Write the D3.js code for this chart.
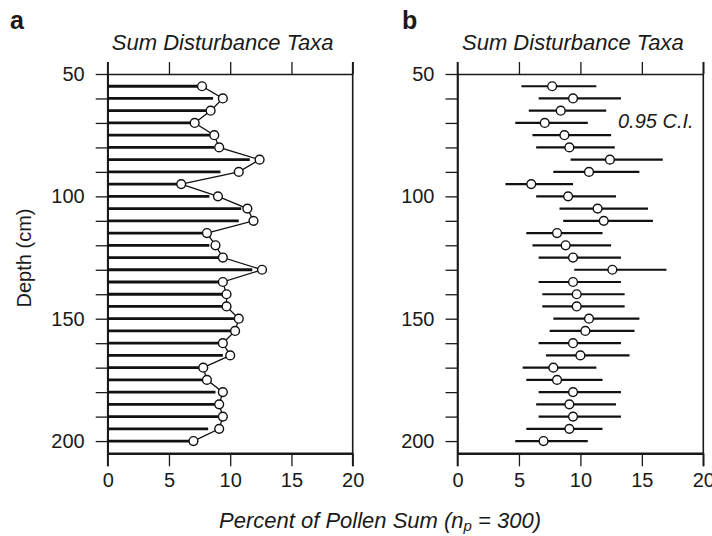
<!DOCTYPE html>
<html><head><meta charset="utf-8">
<script src="https://cdn.jsdelivr.net/npm/d3@7"></script>
<style>
body{margin:0;background:#fff;}
text{font-family:"Liberation Sans",Arial,Helvetica,sans-serif;fill:#1a1a1a;}
.axis path,.axis line{stroke:#1a1a1a;}
</style></head><body>
<svg id="chart" width="712" height="536"></svg>
<script>
const depths = [55,60,65,70,75,80,85,90,95,100,105,110,115,120,125,130,135,140,145,150,155,160,165,170,175,180,185,190,195,200];
const values = [7.7,9.4,8.4,7.1,8.7,9.1,12.4,10.7,6.0,9.0,11.4,11.9,8.1,8.8,9.4,12.6,9.4,9.7,9.7,10.7,10.4,9.4,10.0,7.8,8.1,9.4,9.1,9.4,9.1,7.0];
const barValues = [7.5,8.6,8.1,6.8,8.4,8.7,11.6,9.2,5.7,8.3,10.9,10.7,7.7,8.3,9.1,11.8,9.1,9.4,9.4,10.3,10.1,9.1,9.4,7.5,7.7,8.8,8.8,9.0,8.2,6.8];
const ciLow = [5.2,6.6,5.8,4.7,6.1,6.4,9.2,7.8,3.9,6.4,8.3,8.6,5.6,6.1,6.6,9.5,6.6,6.9,6.9,7.8,7.5,6.6,7.2,5.3,5.6,6.6,6.4,6.6,5.6,4.7];
const ciHigh = [11.3,13.3,12.1,10.6,12.5,12.8,16.7,14.8,9.4,12.9,15.5,15.9,11.8,12.5,13.3,17.0,13.3,13.6,13.6,14.8,14.4,13.3,14.0,11.3,11.8,13.3,12.9,13.3,11.8,10.6];
const xTicks = [0,5,10,15,20];
const yTicks = [50,60,70,80,90,100,110,120,130,140,150,160,170,180,190,200];
const yDomain = [50,205];
const panelTitle = "Sum Disturbance Taxa";
const panelLetters = ["a","b"];
const ciLabel = "0.95 C.I.";

const svg = d3.select("#chart");
const y = d3.scaleLinear().domain(yDomain).range([74,453.3]);
const xA = d3.scaleLinear().domain([0,20]).range([107.7,352.7]);
const xB = d3.scaleLinear().domain([0,20]).range([457.5,703.3]);

function drawAxes(x){
  const top = svg.append("g").attr("class","axis").attr("transform",`translate(0,${y(50)})`)
    .call(d3.axisTop(x).tickValues(xTicks).tickSize(12).tickSizeOuter(0).tickFormat(""));
  top.select(".domain").attr("stroke-width",1.6);
  top.selectAll(".tick line").attr("stroke-width",1.3);
  const bot = svg.append("g").attr("class","axis").attr("transform",`translate(0,${y(205)})`)
    .call(d3.axisBottom(x).tickValues(xTicks).tickSize(13).tickSizeOuter(0).tickPadding(7));
  bot.select(".domain").attr("stroke-width",2.4);
  bot.selectAll(".tick line").attr("stroke-width",1.3);
  bot.selectAll("text").attr("font-size",20).attr("fill","#1a1a1a");
  const left = svg.append("g").attr("class","axis").attr("transform",`translate(${x(0)},0)`)
    .call(d3.axisLeft(y).tickValues(yTicks).tickSize(12).tickSizeOuter(0).tickPadding(11)
      .tickFormat(d => d % 50 === 0 ? d : ""));
  left.select(".domain").attr("stroke-width",1.6);
  left.selectAll(".tick line").attr("stroke-width",1.3);
  left.selectAll("text").attr("font-size",20).attr("fill","#1a1a1a");
  // left and right frame lines extend to the top/bottom tick ends
  [x(0), x(20)].forEach(px => {
    svg.append("line").attr("x1",px).attr("x2",px).attr("y1",y(50)-12).attr("y2",y(205)+13)
      .attr("stroke","#1a1a1a").attr("stroke-width",1.6);
  });
}

// Panel a
drawAxes(xA);
svg.append("g").selectAll("line.bar").data(depths).join("line")
  .attr("x1",xA(0)).attr("x2",(d,i)=>xA(barValues[i]))
  .attr("y1",d=>y(d)).attr("y2",d=>y(d))
  .attr("stroke","#111").attr("stroke-width",2.8);
svg.append("path").datum(depths)
  .attr("d",d3.line().x((d,i)=>xA(values[i])).y(d=>y(d)))
  .attr("fill","none").attr("stroke","#111").attr("stroke-width",1.3);
svg.append("g").selectAll("circle").data(depths).join("circle")
  .attr("cx",(d,i)=>xA(values[i])).attr("cy",d=>y(d)).attr("r",4.4)
  .attr("fill","#fff").attr("stroke","#111").attr("stroke-width",1.4);

// Panel b
drawAxes(xB);
svg.append("g").selectAll("line.ci").data(depths).join("line")
  .attr("x1",(d,i)=>xB(ciLow[i])).attr("x2",(d,i)=>xB(ciHigh[i]))
  .attr("y1",d=>y(d)).attr("y2",d=>y(d))
  .attr("stroke","#111").attr("stroke-width",2.2);
svg.append("g").selectAll("circle").data(depths).join("circle")
  .attr("cx",(d,i)=>xB(values[i])).attr("cy",d=>y(d)).attr("r",4.4)
  .attr("fill","#fff").attr("stroke","#111").attr("stroke-width",1.4);

// Titles and letters
[[xA,panelLetters[0],10],[xB,panelLetters[1],402]].forEach(([x,l,lx])=>{
  svg.append("text").attr("x",lx).attr("y",29).attr("font-size",25).attr("font-weight","bold").text(l);
  svg.append("text").attr("x",(x.range()[0]+x.range()[1])/2 - 7.5).attr("y",50)
    .attr("text-anchor","middle").attr("font-size",22).attr("font-style","italic").text(panelTitle);
});
svg.append("text").attr("x",618).attr("y",128).attr("font-size",20).attr("font-style","italic").text(ciLabel);

// Y label
svg.append("text").attr("transform","translate(31,258) rotate(-90)").attr("text-anchor","middle")
  .attr("font-size",20).text("Depth (cm)");

// X label with subscript
const xl = svg.append("text").attr("x",380).attr("y",528).attr("text-anchor","middle")
  .attr("font-size",22).attr("font-style","italic");
xl.append("tspan").text("Percent of Pollen Sum (n");
xl.append("tspan").attr("font-size",15).attr("dy",3).text("p");
xl.append("tspan").attr("dy",-3).text(" = 300)");
</script></body></html>
